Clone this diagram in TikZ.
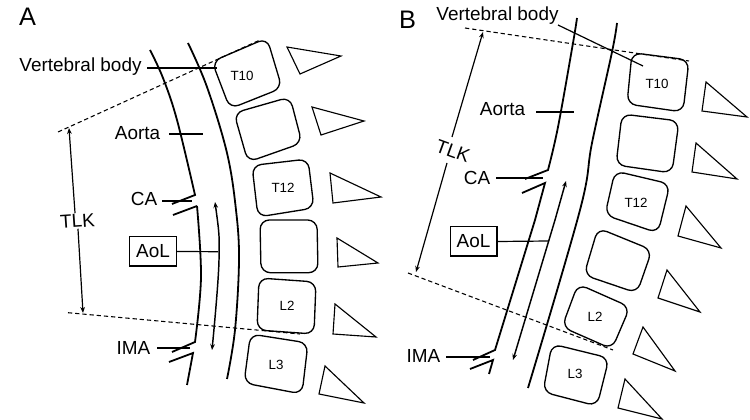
\documentclass[tikz,border=0pt]{standalone}
\usepackage{fontspec}
\setmainfont{Liberation Sans}
\usetikzlibrary{arrows.meta}
\tikzset{
  x=0.75pt, y=-0.75pt,
  lbl/.style={inner sep=0pt, font=\fontsize{14.2}{16}\selectfont},
  panel/.style={inner sep=0pt, font=\fontsize{19}{21}\selectfont},
  vlbl/.style={inner sep=0pt, font=\fontsize{10}{12}\selectfont},
  boxlbl/.style={draw, line width=1pt, minimum width=35pt, minimum height=22pt, inner sep=0pt, font=\fontsize{14.2}{16}\selectfont},
  vert/.style={draw, line width=1pt, rounded corners=7pt},
  spine/.style={draw, line width=0.85pt, line join=miter},
  wall/.style={draw, line width=1.35pt},
  leader/.style={draw, line width=0.9pt},
  span/.style={draw, line width=0.9pt, -{Stealth[length=4.5pt,width=3.5pt]}},
  both/.style={draw, line width=1.1pt, {Stealth[length=4.5pt,width=3.5pt]}-{Stealth[length=4.5pt,width=3.5pt]}},
  level/.style={draw, line width=0.8pt, dash pattern=on 3.2pt off 2.2pt},
}
\begin{document}
\begin{tikzpicture}
\useasboundingbox (0,0) rectangle (750,420);

% ---------- Panel A ----------
\node[panel] (pA) at (27.5,17) {A};

% vertebral bodies
\draw[vert] (212,61.5) -- (267,38) -- (282,88) -- (230,108.7) -- cycle;
\draw[vert] (234,113) -- (290,97) -- (302,143) -- (248,162) -- cycle;
\draw[vert] (252,165.5) -- (308,159) -- (314,208) -- (258,217) -- cycle;
\draw[vert] (260,220) -- (317,220) -- (318,272.7) -- (261,272.7) -- cycle;
\draw[vert] (259,278) -- (316,282) -- (314,334) -- (257,330) -- cycle;
\draw[vert] (250.5,334) -- (308,343) -- (302,394) -- (244,383) -- cycle;
\node[vlbl] (a10) at (242,76) {T10};
\node[vlbl] (a12) at (283,188) {T12};
\node[vlbl] (a2) at (287,306) {L2};
\node[vlbl] (a3) at (276,365) {L3};

% spinous processes
\draw[spine] (287,47) -- (341,56) -- (300,74) -- cycle;
\draw[spine] (312,107) -- (364,121) -- (321,135) -- cycle;
\draw[spine] (330,173) -- (381,197) -- (333,203) -- cycle;
\draw[spine] (337,238) -- (378,263) -- (338,267) -- cycle;
\draw[spine] (335,304) -- (376,337) -- (333,334) -- cycle;
\draw[spine] (325,366) -- (364,403) -- (319,394) -- cycle;

% aortic walls and branch stubs
\draw[wall] plot[smooth,tension=0.6] coordinates {(150,50) (163,78) (177,120) (195,195)} -- (172,204);
\draw[wall] (173,215) -- (197,206) plot[smooth,tension=0.6] coordinates {(197,206) (201,277) (195,342)} -- (172,352);
\draw[wall] (169,362) -- (193,353) -- (187,385);
\draw[wall] plot[smooth,tension=0.6] coordinates {(188,43) (207,87) (227,153) (236,210) (239,260) (235,330) (227,379)};
\draw[both] plot[smooth,tension=0.6] coordinates {(215,202) (219,260) (212,350)};

% levels and span
\coordinate (aU1) at (58,132);
\coordinate (aU2) at (260,40);
\coordinate (aL1) at (68,312.7);
\coordinate (aL2) at (300,334);
\draw[level] (aU1) -- (aU2);
\draw[level] (aL1) -- (aL2);
\node[lbl, rotate=4] (aTLK) at (77.5,221) {TLK};
\coordinate (aS1) at (69,128);
\coordinate (aS2) at (83,313);
\draw[span] (aTLK.north) ++(-2,-1) -- (aS1);
\draw[span] (aTLK.south) ++(0,1) -- (aS2);

% labels with leaders
\node[lbl] (aVB) at (80.5,67) {Vertebral body};
\coordinate (aVBe) at (217,68);
\draw[leader] (147,68) -- (aVBe);
\node[lbl] (aAo) at (137.5,133) {Aorta};
\coordinate (aAoe) at (203,134);
\draw[leader] (169,134) -- (aAoe);
\node[lbl] (aCA) at (144,199) {CA};
\coordinate (aCAe) at (192,201);
\draw[leader] (162,201) -- (aCAe);
\node[boxlbl] (aAoL) at (153,251.5) {AoL};
\coordinate (aAoLe) at (218,251.7);
\draw[leader] (aAoL.east) -- (aAoLe);
\node[lbl] (aIMA) at (133.5,348) {IMA};
\coordinate (aIMAe) at (190,348);
\draw[leader] (157,348) -- (aIMAe);

% ---------- Panel B ----------
\node[panel] (pB) at (407.5,20) {B};

% vertebral bodies
\draw[vert] (632,52.7) -- (689,60) -- (683,112) -- (627,104) -- cycle;
\draw[vert] (622,114) -- (679,121) -- (672,173) -- (616,165) -- cycle;
\draw[vert] (615,171) -- (670,184) -- (658,233) -- (605,215) -- cycle;
\draw[vert] (598,228) -- (652,250) -- (637,293) -- (584,275) -- cycle;
\draw[vert] (578,284) -- (630,307) -- (612,349) -- (562,327) -- cycle;
\draw[vert] (552,344) -- (609,358) -- (597,406) -- (543,392) -- cycle;
\node[vlbl] (b10) at (657,84) {T10};
\node[vlbl] (b12) at (636,203) {T12};
\node[vlbl] (b2) at (595,317) {L2};
\node[vlbl] (b3) at (575,374) {L3};

% spinous processes
\draw[spine] (706,82) -- (747,117) -- (702,111) -- cycle;
\draw[spine] (696,143) -- (737,179) -- (692,172) -- cycle;
\draw[spine] (686,206) -- (721,248) -- (678,236) -- cycle;
\draw[spine] (667,270) -- (700,312) -- (658,298) -- cycle;
\draw[spine] (643,327) -- (675,371) -- (633,354) -- cycle;
\draw[spine] (625,379) -- (662,419) -- (618,408) -- cycle;

% aortic walls and branch stubs
\draw[wall] plot[smooth,tension=0.6] coordinates {(577,18) (573,43) (558,127) (548,170)} -- (525,179);
\draw[wall] (522,193) -- (545,183) -- (535,220) -- (495,350) -- (473,360);
\draw[wall] (470,369) -- (493,360) -- (489,374);
\draw[wall] plot[smooth,tension=0.6] coordinates {(617,23) (612,52) (592,143) (580,210) (528,388)};
\draw[both] (566,181) -- (555,220) -- (513,360);

% levels and span
\coordinate (bU1) at (465,28);
\coordinate (bU2) at (689,61);
\coordinate (bL1) at (408,273);
\coordinate (bL2) at (613,350);
\draw[level] (bU1) -- (bU2);
\draw[level] (bL1) -- (bL2);
\node[lbl, rotate=-20] (bTLK) at (453,151) {TLK};
\coordinate (bS1) at (483,32);
\coordinate (bS2) at (416,272);
\draw[span] (452,137) -- (bS1);
\draw[span] (447,163) -- (bS2);

% labels with leaders
\node[lbl] (bVB) at (497.5,16) {Vertebral body};
\coordinate (bVBe) at (643,66);
\draw[leader] (558,25) -- (bVBe);
\node[lbl] (bAo) at (502.5,109) {Aorta};
\coordinate (bAoe) at (574,112);
\draw[leader] (536,112) -- (bAoe);
\node[lbl] (bCA) at (477,178) {CA};
\coordinate (bCAe) at (543,178);
\draw[leader] (496,178) -- (bCAe);
\node[boxlbl] (bAoL) at (473.5,241.5) {AoL};
\coordinate (bAoLe) at (549,241);
\draw[leader] (bAoL.east) -- (bAoLe);
\node[lbl] (bIMA) at (423.5,356) {IMA};
\coordinate (bIMAe) at (490,357);
\draw[leader] (446,357) -- (bIMAe);
\end{tikzpicture}
\end{document}
